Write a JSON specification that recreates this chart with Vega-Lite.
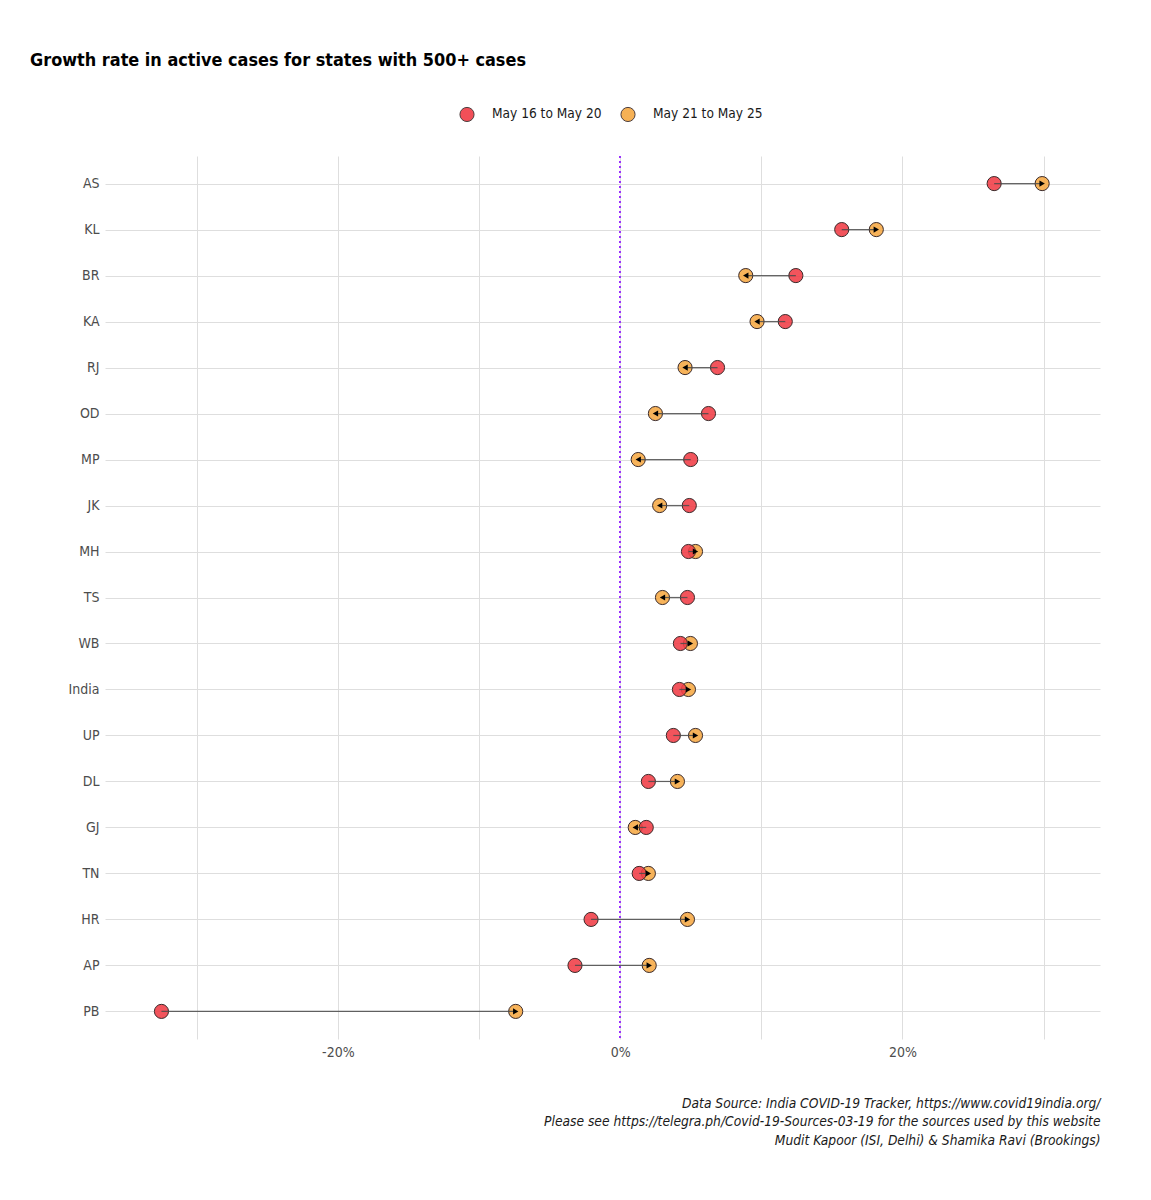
{
  "$schema": "https://vega.github.io/schema/vega-lite/v6.json",
  "width": 995,
  "height": 883,
  "autosize": {"type": "none"},
  "padding": {"left": 105, "top": 156, "right": 51, "bottom": 161},
  "background": "white",
  "config": {
    "font": "DejaVu Sans Condensed, Liberation Sans, sans-serif",
    "view": {"stroke": null}
  },
  "title": {
    "text": "Growth rate in active cases for states with 500+ cases",
    "anchor": "start",
    "frame": "group",
    "dx": -75,
    "fontSize": 17.9,
    "fontWeight": "bold",
    "color": "#000000",
    "offset": 36
  },
  "data": {
    "values": [
      {"state": "AS", "p1": 26.5, "p2": 29.9},
      {"state": "KL", "p1": 15.7, "p2": 18.15},
      {"state": "BR", "p1": 12.45, "p2": 8.9},
      {"state": "KA", "p1": 11.7, "p2": 9.7},
      {"state": "RJ", "p1": 6.9, "p2": 4.6},
      {"state": "OD", "p1": 6.26, "p2": 2.5},
      {"state": "MP", "p1": 5.0, "p2": 1.28},
      {"state": "JK", "p1": 4.9, "p2": 2.8},
      {"state": "MH", "p1": 4.84, "p2": 5.34},
      {"state": "TS", "p1": 4.77, "p2": 3.0},
      {"state": "WB", "p1": 4.27, "p2": 4.98},
      {"state": "India", "p1": 4.2, "p2": 4.84},
      {"state": "UP", "p1": 3.77, "p2": 5.34},
      {"state": "DL", "p1": 2.0, "p2": 4.06},
      {"state": "GJ", "p1": 1.85, "p2": 1.07},
      {"state": "TN", "p1": 1.35, "p2": 2.0},
      {"state": "HR", "p1": -2.06, "p2": 4.77},
      {"state": "AP", "p1": -3.2, "p2": 2.06},
      {"state": "PB", "p1": -32.5, "p2": -7.4}
    ]
  },
  "encoding": {
    "y": {
      "field": "state",
      "type": "nominal",
      "sort": ["AS","KL","BR","KA","RJ","OD","MP","JK","MH","TS","WB","India","UP","DL","GJ","TN","HR","AP","PB"],
      "scale": {"type": "point", "padding": 0.6},
      "axis": {
        "title": null,
        "grid": true,
        "domain": false,
        "ticks": false,
        "labelFontSize": 14,
        "labelColor": "#4d4d4d",
        "labelPadding": 6,
        "gridColor": "#dedede",
        "gridWidth": 1
      }
    }
  },
  "layer": [
    {
      "mark": {"type": "rule", "color": "#9B30FF", "strokeDash": [2, 3], "strokeWidth": 1.3},
      "encoding": {
        "x": {"datum": 0, "type": "quantitative"},
        "y": null
      }
    },
    {
      "transform": [{"fold": ["p2", "p1"], "as": ["period", "value"]}],
      "mark": {"type": "point", "filled": true, "shape": "circle", "size": 200, "stroke": "#3a2a2a", "strokeWidth": 1, "fillOpacity": 0.88, "opacity": 1},
      "encoding": {
        "x": {
          "field": "value",
          "type": "quantitative",
          "scale": {"domain": [-36.5, 34], "nice": false, "zero": false},
          "axis": {
            "values": [-30, -20, -10, 0, 10, 20, 30],
            "labelExpr": "datum.value % 20 == 0 ? datum.value + '%' : ''",
            "grid": true,
            "domain": false,
            "ticks": false,
            "labelFontSize": 14,
            "labelColor": "#4d4d4d",
            "labelPadding": 6,
            "gridColor": "#dedede",
            "gridWidth": 1,
            "title": ["Data Source: India COVID-19 Tracker, https://www.covid19india.org/", "Please see https://telegra.ph/Covid-19-Sources-03-19 for the sources used by this website", "Mudit Kapoor (ISI, Delhi) & Shamika Ravi (Brookings)"],
            "titleAnchor": "end",
            "titleAlign": "right",
            "titleFontStyle": "italic",
            "titleFontWeight": "normal",
            "titleFontSize": 13.7,
            "titleColor": "#1a1a1a",
            "titleLineHeight": 18.5,
            "titlePadding": 37
          }
        },
        "color": {
          "field": "period",
          "type": "nominal",
          "scale": {"domain": ["p1", "p2"], "range": ["#F03C46", "#F6A943"]},
          "legend": {
            "title": null,
            "orient": "none",
            "legendX": 354,
            "legendY": -50,
            "direction": "horizontal",
            "labelExpr": "datum.value == 'p1' ? 'May 16 to May 20' : 'May 21 to May 25'",
            "labelFontSize": 13.6,
            "labelColor": "#1a1a1a",
            "symbolType": "circle",
            "symbolSize": 200,
            "symbolStrokeColor": "#3a2a2a",
            "symbolStrokeWidth": 1,
            "symbolOpacity": 0.9,
            "labelOffset": 17,
            "columnPadding": 16
          }
        }
      }
    },
    {
      "mark": {"type": "rule", "color": "#4a4a4a", "strokeWidth": 1.2, "opacity": 0.85},
      "encoding": {
        "x": {"field": "p1", "type": "quantitative"},
        "x2": {"field": "p2"}
      }
    },
    {
      "transform": [{"calculate": "datum.p2 >= datum.p1 ? 'right' : 'left'", "as": "dir"}],
      "mark": {"type": "point", "filled": true, "color": "#000000", "opacity": 1, "size": 38},
      "encoding": {
        "x": {"field": "p2", "type": "quantitative"},
        "xOffset": {"field": "dir", "type": "nominal", "scale": {"domain": ["right", "left"], "range": [-2, 2]}},
        "shape": {"field": "dir", "type": "nominal", "scale": {"domain": ["right", "left"], "range": ["triangle-right", "triangle-left"]}, "legend": null}
      }
    }
  ]
}
